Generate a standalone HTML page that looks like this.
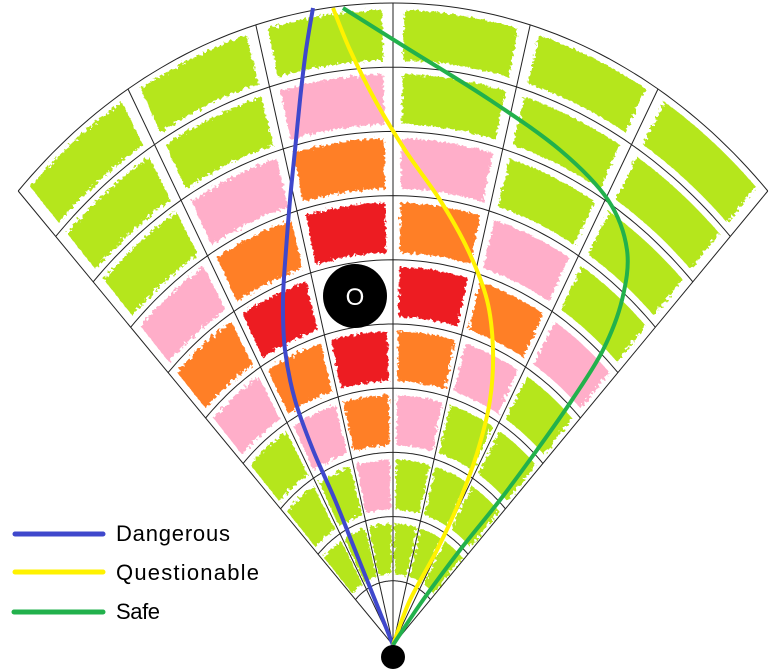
<!DOCTYPE html>
<html><head><meta charset="utf-8"><style>
html,body{margin:0;padding:0;background:#fff;}
svg{display:block;}
text{font-family:"Liberation Sans",sans-serif;}
</style></head><body>
<svg id="chart" width="773" height="672" viewBox="0 0 773 672">
<defs>
<filter id="rough" x="-10%" y="-10%" width="120%" height="120%">
<feTurbulence type="fractalNoise" baseFrequency="0.3" numOctaves="2" seed="3"/>
<feDisplacementMap in="SourceGraphic" scale="7"/>
</filter>
</defs>
<g id="cells"></g>
<g id="grid"></g>
<g id="paths"></g>
<g>
<circle cx="355" cy="296" r="32" fill="#000"/>
<text x="355" y="305" font-size="24" fill="#fff" text-anchor="middle">O</text>
</g>
<circle cx="393" cy="657" r="12" fill="#000"/>
<g>
<g>
<line x1="15" y1="534" x2="103" y2="534" stroke="#3f48cc" stroke-width="5" stroke-linecap="round"/>
<text x="116" y="541" font-size="22" fill="#000" textLength="114">Dangerous</text></g>
<g>
<line x1="15" y1="572" x2="103" y2="572" stroke="#fff200" stroke-width="5" stroke-linecap="round"/>
<text x="116" y="580" font-size="22" fill="#000" textLength="143">Questionable</text></g>
<g>
<line x1="14" y1="612" x2="103" y2="612" stroke="#22b14c" stroke-width="5" stroke-linecap="round"/>
<text x="116" y="619" font-size="22" fill="#000" textLength="44">Safe</text></g>
</g>
</svg>
<script>
// sectors from left: -45..-30, -30..-15, -15..0, 0..15, 15..30, 30..45
const sectorStarts = [-45, -30, -15, 0, 15, 30];
// ring colors (ring 1 = innermost) per sector: G green, P pink, O orange, R red, '' none
const ring1 = ['', '', '', '', '', ''];
const ring2 = ['G', 'G', 'G', 'G', 'G', 'G'];
const ring3 = ['G', 'G', 'P', 'G', 'G', 'G'];
const ring4 = ['G', 'P', 'O', 'P', 'G', 'G'];
const ring5 = ['P', 'O', 'R', 'O', 'P', 'G'];
const ring6 = ['O', 'R', '', 'R', 'O', 'P'];
const ring7 = ['P', 'O', 'R', 'O', 'P', 'G'];
const ring8 = ['G', 'P', 'O', 'P', 'G', 'G'];
const ring9 = ['G', 'G', 'P', 'G', 'G', 'G'];
const ring10 = ['G', 'G', 'G', 'G', 'G', 'G'];
const rings = [ring1, ring2, ring3, ring4, ring5, ring6, ring7, ring8, ring9, ring10];
// path curves: y sample positions and x values
const pathY = [645, 600, 550, 500, 450, 400, 350, 300, 250, 200, 150, 100, 50, 8];
const dangerousX = [393, 375, 355, 335, 313, 295, 285, 283, 286, 290, 295, 300, 306, 313];
const questionableX = [393, 410, 437, 460, 478, 490, 493, 487, 468, 440, 405, 375, 350, 333];
const safeX = [393, 423, 460, 500, 537, 572, 603, 622, 627, 608, 560, 490, 410, 343];

const CX = 393, CY = 645, RX = 530, RY = 642;
const colors = {G: '#b5e61d', P: '#ffaec9', O: '#ff7f27', R: '#ed1c24'};
const NS = 'http://www.w3.org/2000/svg';
function P(u, deg) { const a = deg * Math.PI / 180; return [CX + RX * u * Math.sin(a), CY - RY * u * Math.cos(a)]; }
function arcPts(u, a0, a1, n) { const p = []; for (let i = 0; i <= n; i++) p.push(P(u, a0 + (a1 - a0) * i / n)); return p; }

const cellsG = document.getElementById('cells');
rings.forEach((ring, k) => {
  ring.forEach((c, s) => {
    if (!c) return;
    const u0 = k / 10 + 0.011, u1 = (k + 1) / 10 - 0.011;
    const a0 = sectorStarts[s] + 1.2, a1 = sectorStarts[s] + 15 - 1.2;
    const pts = arcPts(u1, a0, a1, 12).concat(arcPts(u0, a1, a0, 12));
    const el = document.createElementNS(NS, 'polygon');
    el.setAttribute('points', pts.map(p => p[0].toFixed(1) + ',' + p[1].toFixed(1)).join(' '));
    el.setAttribute('fill', colors[c]);
    el.setAttribute('filter', 'url(#rough)');
    
    
    cellsG.appendChild(el);
  });
});

const gridG = document.getElementById('grid');
for (let k = 1; k <= 10; k++) {
  const el = document.createElementNS(NS, 'polyline');
  el.setAttribute('points', arcPts(k / 10, -45, 45, 90).map(p => p[0].toFixed(1) + ',' + p[1].toFixed(1)).join(' '));
  el.setAttribute('fill', 'none');
  el.setAttribute('stroke', '#222');
  el.setAttribute('stroke-width', '1');
  
  
  gridG.appendChild(el);
}
for (let a = -45; a <= 45; a += 15) {
  const e = P(1, a);
  const el = document.createElementNS(NS, 'line');
  el.setAttribute('x1', CX); el.setAttribute('y1', CY);
  el.setAttribute('x2', e[0].toFixed(1)); el.setAttribute('y2', e[1].toFixed(1));
  el.setAttribute('stroke', '#222');
  el.setAttribute('stroke-width', '1');
  
  
  gridG.appendChild(el);
}

function smooth(xs, ys) {
  const pts = xs.map((x, i) => [x, ys[i]]);
  let d = 'M' + pts[0][0] + ',' + pts[0][1];
  for (let i = 0; i < pts.length - 1; i++) {
    const p0 = pts[i - 1] || pts[i], p1 = pts[i], p2 = pts[i + 1], p3 = pts[i + 2] || p2;
    const c1 = [p1[0] + (p2[0] - p0[0]) / 6, p1[1] + (p2[1] - p0[1]) / 6];
    const c2 = [p2[0] - (p3[0] - p1[0]) / 6, p2[1] - (p3[1] - p1[1]) / 6];
    d += ' C' + c1.map(v => v.toFixed(1)) + ' ' + c2.map(v => v.toFixed(1)) + ' ' + p2[0] + ',' + p2[1];
  }
  return d;
}
const pathsG = document.getElementById('paths');
[['dangerous-path', dangerousX, '#3f48cc'], ['questionable-path', questionableX, '#fff200'], ['safe-path', safeX, '#22b14c']].forEach(([name, xs, col]) => {
  const el = document.createElementNS(NS, 'path');
  el.setAttribute('d', smooth(xs, pathY));
  el.setAttribute('fill', 'none');
  el.setAttribute('stroke', col);
  el.setAttribute('stroke-width', '4');
  
  
  pathsG.appendChild(el);
});
</script>
</body></html>
